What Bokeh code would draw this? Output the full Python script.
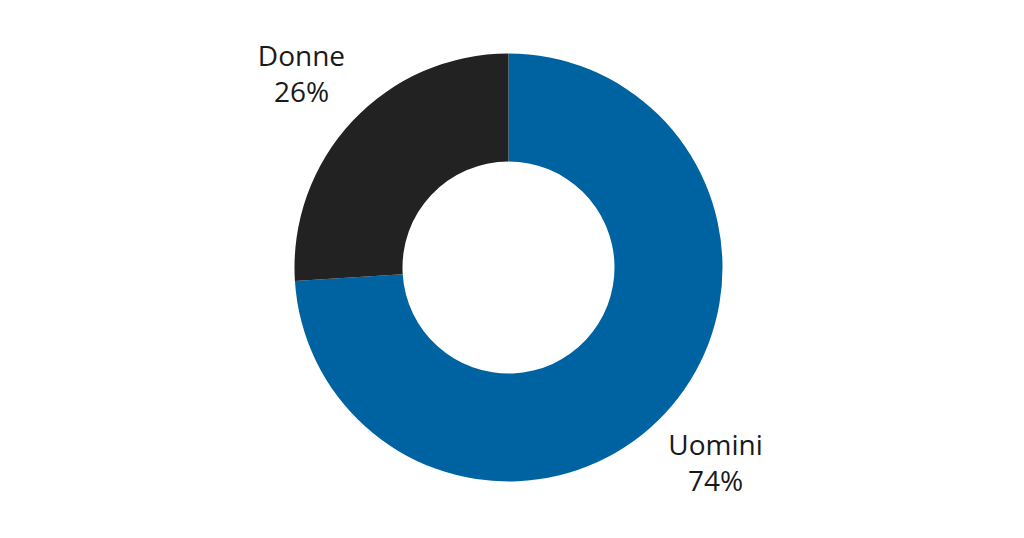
import math
from bokeh.plotting import figure
from bokeh.models import ColumnDataSource, Range1d
from bokeh.core.properties import value
from bokeh.embed import file_html
from bokeh.resources import INLINE

# data
labels = ["Uomini", "Donne"]
shares = [74, 26]
colors = ["#0063a1", "#222222"]

W, H = 1008, 522
cx, cy = 508, H - 267
r_out, r_in = 214, 106
r_lab = 284

# angles: start at 12 o'clock, go clockwise
starts, ends, lx, ly, txt = [], [], [], [], []
acc = 0.0
total = float(sum(shares))
for lab, s in zip(labels, shares):
    a0 = math.pi / 2 - 2 * math.pi * acc / total
    a1 = math.pi / 2 - 2 * math.pi * (acc + s) / total
    starts.append(a0)
    ends.append(a1)
    mid = (a0 + a1) / 2
    lx.append(cx + r_lab * math.cos(mid))
    ly.append(cy + r_lab * math.sin(mid))
    txt.append(lab + "\n" + str(s) + "%")
    acc += s

src = ColumnDataSource(dict(start=starts, end=ends, color=colors,
                            lx=lx, ly=ly, txt=txt))

p = figure(width=W, height=H, output_backend="svg", toolbar_location=None,
           x_range=Range1d(0, W), y_range=Range1d(0, H), min_border=0)
p.axis.visible = False
p.grid.visible = False
p.outline_line_color = None

p.annular_wedge(x=cx, y=cy, inner_radius=r_in, outer_radius=r_out,
                start_angle="start", end_angle="end", direction="clock",
                fill_color="color", line_color=None, source=src)

p.text(x="lx", y="ly", text="txt", source=src, text_align="center",
       text_baseline="middle", text_font=value("Open Sans"),
       text_font_size="28px", text_color="#1a1a1a", text_line_height=0.95)

open("out.html", "w").write(file_html(p, INLINE))
